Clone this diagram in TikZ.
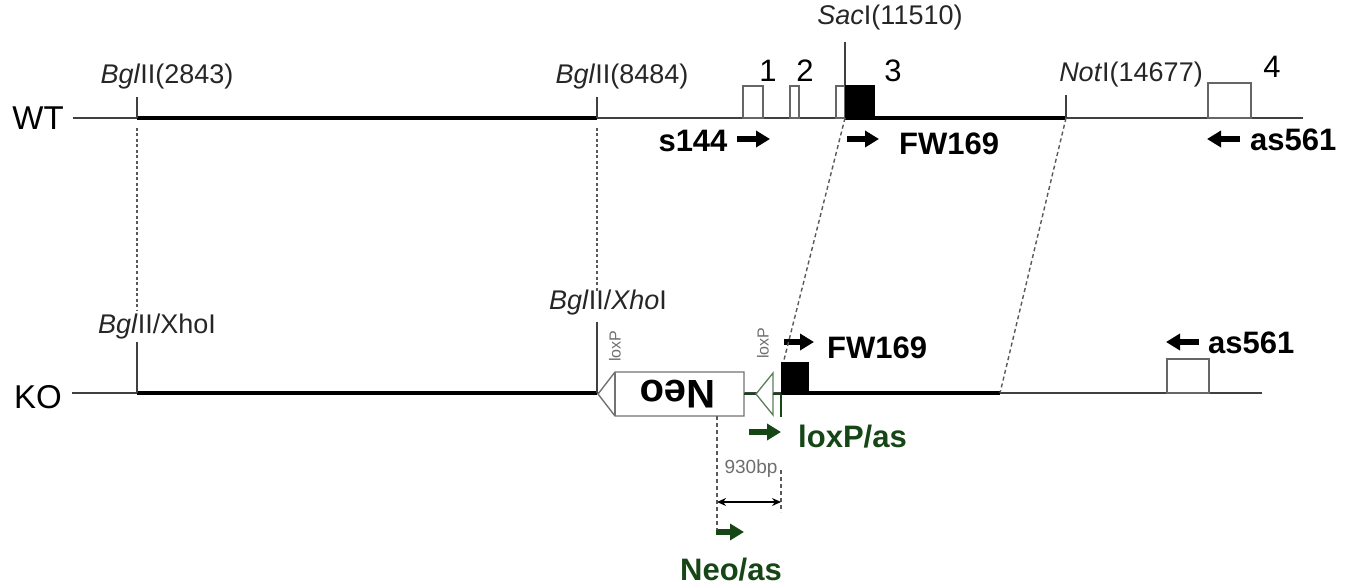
\documentclass[tikz,border=0pt]{standalone}
\usepackage{fontspec}
\setmainfont{Liberation Sans}
\usetikzlibrary{arrows.meta}
\definecolor{dgreen}{RGB}{22,70,22}
\definecolor{lgray}{RGB}{110,110,110}
\tikzset{
  thinline/.style={draw=black!75, line width=1.4pt},
  thickline/.style={draw=black, line width=4.5pt},
  ticker/.style={draw=black!75, line width=1.4pt},
  exonbox/.style={draw=black!60, line width=1.4pt, fill=white},
  blackbox/.style={draw=black, fill=black, line width=1pt},
  primer/.style={line width=6pt, -{Triangle[length=14pt,width=16pt]}},
  gprimer/.style={primer, draw=dgreen},
  dashconn/.style={draw=black!65, line width=1.4pt, dash pattern=on 4pt off 3pt},
  dotconn/.style={draw=black!65, line width=1.4pt, dash pattern=on 3pt off 2.5pt},
  sitelbl/.style={font=\fontsize{27}{30}\selectfont, text=black!85, inner sep=0pt},
  bigl/.style={font=\fontsize{33}{36}\selectfont, inner sep=0pt},
  prl/.style={font=\fontsize{31}{34}\selectfont\bfseries, inner sep=0pt},
  gprl/.style={prl, text=dgreen},
  numl/.style={font=\fontsize{31}{34}\selectfont, inner sep=0pt},
  tinyl/.style={font=\fontsize{16}{18}\selectfont, text=lgray, inner sep=0pt},
}
\begin{document}
\begin{tikzpicture}[x=1pt,y=-1pt]
\useasboundingbox (0,0) rectangle (1355,588);
% ---------- WT ----------
\node[bigl] (wt) at (38,118) {WT};
\coordinate (wtL) at (73,118);
\coordinate (wtR) at (1303,118);
\coordinate (wtB1) at (137,118);
\coordinate (wtB2) at (597,118);
\coordinate (wtS) at (845,118);
\coordinate (wtN) at (1066,118);
\draw[thinline] (wtL) -- (wtR);
\draw[thickline] (wtB1) -- (wtB2);
\draw[thickline] (wtS) -- (wtN);
\draw[ticker] (wtB1) -- (137,97);
\draw[ticker] (wtB2) -- (597,97);
\draw[ticker] (wtS) -- (845,42);
\draw[ticker] (wtN) -- (1066,95);
\node[sitelbl] (lb1) at (167,77) {\textit{Bgl}II(2843)};
\node[sitelbl] (lb2) at (622,77) {\textit{Bgl}II(8484)};
\node[sitelbl] (ls) at (890,18) {\textit{Sac}I(11510)};
\node[sitelbl] (ln) at (1131,75) {\textit{Not}I(14677)};
\draw[exonbox] (743,86) rectangle (763,118);
\draw[exonbox] (790,86) rectangle (799,118);
\draw[exonbox] (836,86) rectangle (845,118);
\draw[blackbox] (845,86) rectangle (874,118);
\draw[exonbox] (1208,83) rectangle (1251,118);
\node[numl] (e1) at (768,71) {1};
\node[numl] (e2) at (805,71) {2};
\node[numl] (e3) at (893,71) {3};
\node[numl] (e4) at (1272,67) {4};
% WT primers
\coordinate (s1a) at (737,139); \coordinate (s1b) at (770,139);
\draw[primer] (s1a) -- (s1b);
\node[prl] (s144) at (693,141) {s144};
\coordinate (f1a) at (847,139); \coordinate (f1b) at (879,139);
\draw[primer] (f1a) -- (f1b);
\node[prl, anchor=west] (fw1) at (899,144) {FW169};
\coordinate (a1a) at (1240,139); \coordinate (a1b) at (1207,139);
\draw[primer] (a1a) -- (a1b);
\node[prl, anchor=west] (as1) at (1250,140) {as561};
% ---------- KO ----------
\node[bigl] (ko) at (38,397) {KO};
\coordinate (koL) at (72,393);
\coordinate (koR) at (1262,393);
\coordinate (koB1) at (137,393);
\coordinate (koB2) at (597,393);
\coordinate (koE) at (781,393);
\coordinate (koN) at (1000,393);
\draw[thinline] (koL) -- (koR);
\draw[thickline] (koB1) -- (koB2);
\draw[thickline] (koE) -- (koN);
\draw[ticker] (koB1) -- (137,342);
\draw[ticker] (koB2) -- (597,322);
\node[sitelbl] (kb1) at (157,327) {\textit{Bgl}II/XhoI};
\node[sitelbl] (kb2) at (608,303) {\textit{Bgl}II/\textit{Xho}I};
% Neo cassette
\draw[exonbox, draw=black!55] (598,394) -- (615,372) -- (744,372) -- (744,416) -- (615,416) -- cycle;
\draw[exonbox, draw=black!55] (615,372) -- (615,416);
\node[font=\fontsize{40}{42}\selectfont\bfseries, inner sep=0pt, rotate=180] (neo) at (678,394) {Neo};
\node[tinyl, rotate=90] (lx1) at (615,346) {loxP};
\node[tinyl, rotate=90] (lx2) at (763,343) {loxP};
% second loxP (green)
\draw[draw=dgreen, line width=1.2pt] (744,394) -- (756,394);
\draw[draw=dgreen!70, line width=1.3pt, fill=white] (773,373) -- (756,394) -- (773,415) -- cycle;
\draw[draw=dgreen, line width=1.2pt] (773,394) -- (781,394);
\draw[draw=dgreen, line width=1.3pt] (781,394) -- (781,417);
\draw[blackbox] (781,362) rectangle (808,393);
\draw[exonbox] (1167,359) rectangle (1209,393);
% KO primers
\coordinate (f2a) at (784,342); \coordinate (f2b) at (814,342);
\draw[primer] (f2a) -- (f2b);
\node[prl, anchor=west] (fw2) at (827,348) {FW169};
\coordinate (a2a) at (1199,342); \coordinate (a2b) at (1166,342);
\draw[primer] (a2a) -- (a2b);
\node[prl, anchor=west] (as2) at (1208,343) {as561};
\coordinate (la) at (749,432); \coordinate (lb) at (781,432);
\draw[gprimer] (la) -- (lb);
\node[gprl, anchor=west] (loxas) at (798,437) {loxP/as};
\coordinate (na) at (716,532); \coordinate (nb) at (744,532);
\draw[gprimer] (na) -- (nb);
\node[gprl] (neoas) at (731,570) {Neo/as};
% 930bp
\coordinate (d1a) at (717,416); \coordinate (d1b) at (717,530);
\coordinate (d2a) at (781,470); \coordinate (d2b) at (781,512);
\draw[dashconn] (d1a) -- (d1b);
\draw[dashconn] (d2a) -- (d2b);
\coordinate (bpa) at (717,502); \coordinate (bpb) at (781,502);
\draw[line width=1.3pt, {Stealth[length=9pt,width=8pt]}-{Stealth[length=9pt,width=8pt]}] (bpa) -- (bpb);
\node[tinyl, font=\fontsize{19}{21}\selectfont] (bp) at (751,469) {930bp};
% ---------- WT/KO correspondence ----------
\draw[dotconn] (137,128) -- (137,310);
\draw[dotconn] (597,128) -- (597,292);
\draw[dashconn] (wtS) -- (784,360);
\draw[dashconn] (wtN) -- (koN);
\end{tikzpicture}
\end{document}
